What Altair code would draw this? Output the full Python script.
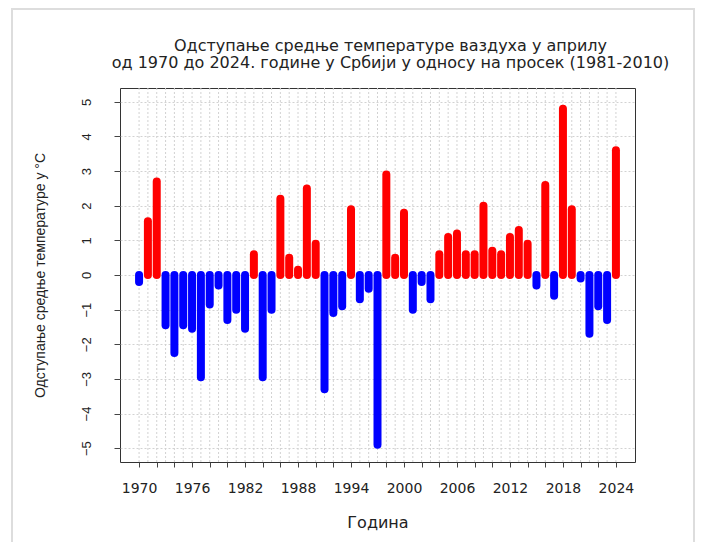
import altair as alt
import pandas as pd

years = list(range(1970, 2025))
values = [-0.2, 1.55, 2.7, -1.45, -2.25, -1.45, -1.55, -2.95, -0.85, -0.3,
          -1.3, -1.0, -1.55, 0.6, -2.95, -1.0, 2.2, 0.5, 0.15, 2.5,
          0.9, -3.3, -1.1, -0.9, 1.9, -0.7, -0.4, -4.9, 2.9, 0.5,
          1.8, -1.0, -0.2, -0.7, 0.6, 1.1, 1.2, 0.6, 0.6, 2.0,
          0.7, 0.6, 1.1, 1.3, 0.9, -0.3, 2.6, -0.6, 4.8, 1.9,
          -0.1, -1.7, -0.9, -1.3, 3.6]
x_ticks = list(range(1970, 2025, 2))
y_ticks = list(range(-5, 6))

title_lines = ["Одступање средње температуре ваздуха у априлу",
               "од 1970 до 2024. године у Србији у односу на просек (1981-2010)"]
x_title = "Година"
y_title = "Одступање средње температуре у °C"

df = pd.DataFrame({"year": years, "value": values})

W, H = 515, 374
FONT = "Liberation Sans"
HFONT = "DejaVu Sans"

xscale = alt.Scale(domain=[1967.84, 2026.16], nice=False, zero=False)
yscale = alt.Scale(domain=[-5.4, 5.4], nice=False, zero=False)

x_enc = alt.X("year:Q", scale=xscale, title=x_title,
              axis=alt.Axis(values=x_ticks, format="d", grid=False, domain=False,
                            tickSize=5, tickColor="#444", labelOverlap=False,
                            labelExpr="(datum.value - 1970) % 6 === 0 ? datum.label : ''",
                            labelFontSize=14, labelFont=HFONT, labelColor="#222",
                            labelPadding=14, labelBaseline="top",
                            titleFontSize=16, titleFont=HFONT, titleFontWeight="normal",
                            titleColor="#222", titleX=W / 2, titleY=60,
                            titleBaseline="middle", titleAlign="center"))

base = alt.Chart(df)

grid_v = base.mark_rule(color="#d2d2d2", strokeDash=[2, 2], strokeWidth=1).encode(
    x=x_enc,
    y=alt.value(0), y2=alt.value(H),
)

bars = base.mark_rule(strokeWidth=8, strokeCap="round").encode(
    x=x_enc,
    y=alt.Y("value:Q", scale=yscale, title=y_title,
            axis=alt.Axis(values=y_ticks, grid=True, gridColor="#d2d2d2",
                          gridDash=[2, 2], domain=False, tickSize=6, tickColor="#444",
                          labelAngle=270, labelAlign="center", labelBaseline="bottom",
                          labelPadding=21, labelFontSize=13, labelFont=FONT,
                          labelColor="#222",
                          titleFontSize=14, titleFont=FONT, titleFontWeight="normal",
                          titleColor="#222", titleAngle=270, titleX=-80, titleY=H / 2,
                          titleAlign="center", titleBaseline="middle")),
    y2=alt.datum(0),
    color=alt.condition(alt.datum.value > 0, alt.value("#ff0000"), alt.value("#0000ff")),
)

one = pd.DataFrame({"a": [0]})
border = alt.Chart(one).mark_rect(
    fill=None, stroke="#dddddd", strokeWidth=2).encode(
    x=alt.value(-108), x2=alt.value(574), y=alt.value(-79), y2=alt.value(480))

t1 = alt.Chart(one).mark_text(
    text=title_lines[0], font=HFONT, fontSize=16, color="#222",
    align="center", baseline="middle").encode(x=alt.value(W / 2 + 13), y=alt.value(-42))
t2 = alt.Chart(one).mark_text(
    text=title_lines[1], font=HFONT, fontSize=16, color="#222",
    align="center", baseline="middle").encode(x=alt.value(W / 2 + 13), y=alt.value(-25))

chart = alt.layer(border, grid_v, bars, t1, t2).properties(
    width=W, height=H,
    autosize=alt.AutoSizeParams(type="none"),
    padding={"left": 112, "top": 80, "right": 60, "bottom": 80},
).configure_view(stroke="#333", strokeWidth=1)

chart.save("out.html", embed_options={"renderer": "svg", "actions": False})
